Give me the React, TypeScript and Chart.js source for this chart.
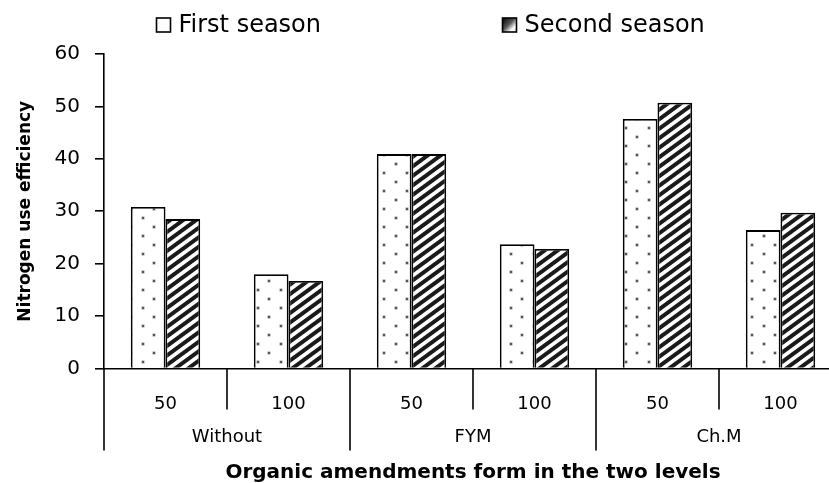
import React, { useEffect, useRef } from 'react';
import { Chart, registerables } from 'chart.js';

Chart.register(...registerables);

// ---- data ----
const categories = ['50', '100', '50', '100', '50', '100'];
const groupLabels = ['Without', 'FYM', 'Ch.M'];
const seriesNames = ['First season', 'Second season'];
const firstSeason = [30.8, 18.0, 40.9, 23.7, 47.6, 26.4];
const secondSeason = [28.5, 16.7, 40.9, 22.8, 50.7, 29.7];
const yMin = 0;
const yMax = 60;
const yStep = 10;
const yTitle = 'Nitrogen use efficiency';
const xTitle = 'Organic amendments form in the two levels';

const FONT = 'DejaVu Sans';

function makeDots(): CanvasPattern | string {
  const c = document.createElement('canvas');
  c.width = 23;
  c.height = 18;
  const g = c.getContext('2d');
  if (!g) return '#fff';
  g.fillStyle = '#ffffff';
  g.fillRect(0, 0, 23, 18);
  g.fillStyle = '#9a9a9a';
  g.fillRect(3.5, 0.5, 3, 3);
  g.fillRect(14.5, 9.5, 3, 3);
  g.fillStyle = '#555555';
  g.fillRect(4, 1, 2, 2);
  g.fillRect(15, 10, 2, 2);
  return g.createPattern(c, 'repeat') || '#fff';
}

function makeStripes(): CanvasPattern | string {
  // seamless diagonal stripes computed per pixel (2 periods per tile)
  const TW = 26;
  const TH = 19;
  const c = document.createElement('canvas');
  c.width = TW;
  c.height = TH;
  const g = c.getContext('2d');
  if (!g) return '#333';
  const img = g.createImageData(TW, TH);
  const dark = 0.52;
  const SS = 4;
  for (let y = 0; y < TH; y++) {
    for (let x = 0; x < TW; x++) {
      let cov = 0;
      for (let sy = 0; sy < SS; sy++) {
        for (let sx = 0; sx < SS; sx++) {
          const px = x + (sx + 0.5) / SS;
          const py = y + (sy + 0.5) / SS;
          let s = (2 * px) / TW + (2 * py) / TH;
          s = s - Math.floor(s);
          if (s < dark) cov++;
        }
      }
      const a = cov / (SS * SS);
      const v = Math.round(255 * (1 - a) + 26 * a);
      const i = (y * TW + x) * 4;
      img.data[i] = v;
      img.data[i + 1] = v;
      img.data[i + 2] = v;
      img.data[i + 3] = 255;
    }
  }
  g.putImageData(img, 0, 0);
  return g.createPattern(c, 'repeat') || '#333';
}

const decorPlugin = {
  id: 'decor',
  afterDraw(chart: any) {
    const { ctx, chartArea } = chart;
    const x = chart.scales.x;
    const base = chartArea.bottom;
    const n = categories.length;
    const step = x.getPixelForValue(1) - x.getPixelForValue(0);
    ctx.save();
    ctx.strokeStyle = '#000';
    ctx.lineWidth = 1.6;
    for (let i = 0; i <= n; i++) {
      const px = x.getPixelForValue(i) - step / 2;
      const len = i % 2 === 0 ? 82 : 41;
      ctx.beginPath();
      ctx.moveTo(px, base);
      ctx.lineTo(px, base + len);
      ctx.stroke();
    }
    ctx.fillStyle = '#000';
    ctx.font = `18px "${FONT}"`;
    ctx.textAlign = 'center';
    ctx.textBaseline = 'middle';
    groupLabels.forEach((lab, gi) => {
      const cx = x.getPixelForValue(gi * 2 + 0.5);
      ctx.fillText(lab, cx, base + 69);
    });

    // legend
    const left = chartArea.left;
    const items = [
      { text: seriesNames[0], bx: left + 52.5, kind: 0 },
      { text: seriesNames[1], bx: left + 398.5, kind: 1 },
    ];
    const cy = 25;
    const bs = 14;
    items.forEach((it) => {
      const by = cy - bs / 2;
      if (it.kind === 0) {
        ctx.fillStyle = '#fff';
      } else {
        const grd = ctx.createLinearGradient(it.bx, by, it.bx + bs, by + bs);
        grd.addColorStop(0, '#000');
        grd.addColorStop(0.45, '#555');
        grd.addColorStop(0.75, '#fff');
        grd.addColorStop(1, '#ddd');
        ctx.fillStyle = grd;
      }
      ctx.fillRect(it.bx, by, bs, bs);
      ctx.strokeStyle = '#000';
      ctx.lineWidth = 1.6;
      ctx.strokeRect(it.bx, by, bs, bs);
      ctx.fillStyle = '#000';
      ctx.font = `24px "${FONT}"`;
      ctx.textAlign = 'left';
      ctx.textBaseline = 'middle';
      ctx.fillText(it.text, it.bx + bs + 8, cy + 1);
    });
    ctx.restore();
  },
};

export default function App() {
  const ref = useRef<HTMLCanvasElement | null>(null);

  useEffect(() => {
    const canvas = ref.current;
    if (!canvas) return;
    Chart.defaults.font.family = FONT;
    const chart = new Chart(canvas, {
      type: 'bar',
      data: {
        labels: categories,
        datasets: [
          {
            label: seriesNames[0],
            data: firstSeason,
            backgroundColor: makeDots() as any,
            borderColor: '#000',
            borderWidth: 1.8,
            borderSkipped: 'bottom',
            categoryPercentage: 0.564,
            barPercentage: 1,
          },
          {
            label: seriesNames[1],
            data: secondSeason,
            backgroundColor: makeStripes() as any,
            borderColor: '#000',
            borderWidth: 1.8,
            borderSkipped: 'bottom',
            categoryPercentage: 0.564,
            barPercentage: 1,
          },
        ],
      },
      options: {
        responsive: false,
        animation: false,
        devicePixelRatio: 1,
        layout: { padding: { top: 54, right: 3, left: 0, bottom: 0 } },
        plugins: {
          legend: { display: false },
          tooltip: { enabled: false },
        },
        scales: {
          x: {
            offset: true,
            grid: { display: false },
            border: { display: true, color: '#000', width: 1.6 },
            ticks: {
              padding: 17,
              color: '#000',
              maxRotation: 0,
              autoSkip: false,
              font: { family: FONT, size: 18 },
            },
            title: {
              display: true,
              text: xTitle,
              color: '#000',
              font: { family: FONT, size: 20, weight: 'bold', lineHeight: 1 },
              padding: { top: 0, bottom: 0 },
            },
            afterFit(s: any) {
              s.height = 114.5;
            },
          },
          y: {
            min: yMin,
            max: yMax,
            ticks: {
              stepSize: yStep,
              padding: 15,
              color: '#000',
              font: { family: FONT, size: 20 },
            },
            grid: {
              drawOnChartArea: false,
              drawTicks: true,
              tickLength: 9,
              color: '#000',
              lineWidth: 1.6,
            },
            border: { display: true, color: '#000', width: 1.6 },
            title: {
              display: true,
              text: yTitle,
              color: '#000',
              font: { family: FONT, size: 17, weight: 'bold', lineHeight: 1 },
              padding: { top: 17, bottom: 0 },
            },
            afterFit(s: any) {
              s.width = 104;
            },
          },
        },
      } as any,
      plugins: [decorPlugin],
    });
    return () => chart.destroy();
  }, []);

  return (
    <div
      style={{
        position: 'fixed',
        left: 0,
        top: 0,
        width: 829,
        height: 483,
        overflow: 'hidden',
        background: '#fff',
      }}
    >
      <canvas ref={ref} width={845} height={483} style={{ display: 'block', width: 845, height: 483 }} />
    </div>
  );
}
